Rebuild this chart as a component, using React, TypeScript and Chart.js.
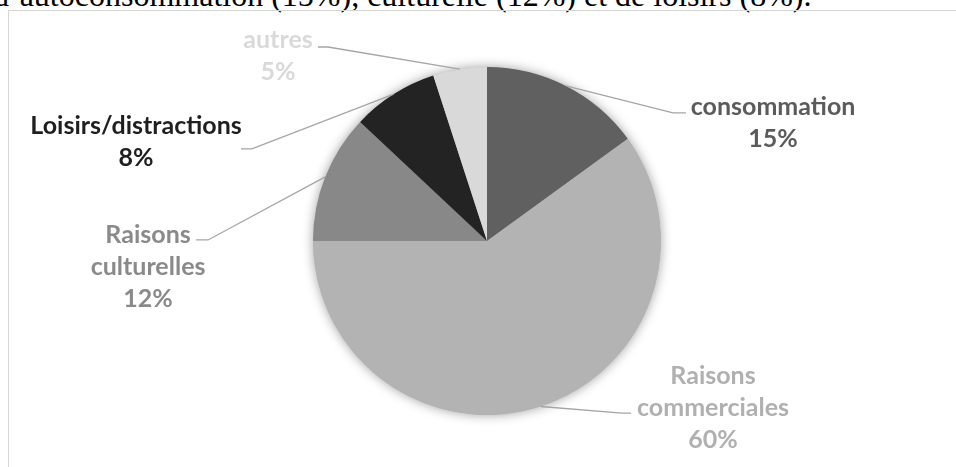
import React, { useEffect, useRef } from "react";
import { Chart, registerables } from "chart.js";

Chart.register(...registerables);

// ---- data ----
const CATEGORIES = [
  "consommation",
  "Raisons commerciales",
  "Raisons culturelles",
  "Loisirs/distractions",
  "autres",
];
const VALUES = [15, 60, 12, 8, 5];
const LABEL_LINES = [
  ["consommation"],
  ["Raisons", "commerciales"],
  ["Raisons", "culturelles"],
  ["Loisirs/distractions"],
  ["autres"],
];
const INTRO_TEXT = "d’autoconsommation (15%), culturelle (12%) et de loisirs (8%).";

// ---- styles ----
const SLICE_COLORS = ["#606060", "#b3b3b3", "#888888", "#232323", "#d9d9d9"];
const TEXT_COLORS = ["#5b5b5b", "#b0b0b0", "#8a8a8a", "#1f1f1f", "#d9d9d9"];
const LEADER_COLOR = "#a5a5a5";
const LABEL_FONT = "bold 25px Lato";
const LINE_GAP = 32;

// label placement, in units of the pie radius, relative to the pie centre
const LABEL_LAYOUT = [
  { elbow: [1.069, -0.736], end: [1.144, -0.736], text: [1.644, -0.724] },
  { elbow: [0.776, 0.989], end: [0.828, 0.989], text: [1.299, 0.822] },
  { elbow: [-1.603, -0.006], end: [-1.672, -0.006], text: [-1.948, 0.011] },
  { elbow: [-1.351, -0.529], end: [-1.414, -0.529], text: [-2.017, -0.615] },
  { elbow: [-0.914, -1.115], end: [-0.971, -1.115], text: [-1.201, -1.109] },
];

const shadowPlugin = {
  id: "pieShadow",
  beforeDatasetsDraw(chart: any) {
    const arc = chart.getDatasetMeta(0).data[0];
    if (!arc) return;
    const { x, y, outerRadius } = arc.getProps(["x", "y", "outerRadius"], true);
    const ctx = chart.ctx;
    ctx.save();
    ctx.shadowColor = "rgba(0,0,0,0.4)";
    ctx.shadowBlur = 12;
    ctx.fillStyle = "#999999";
    ctx.beginPath();
    ctx.arc(x, y, outerRadius - 0.5, 0, Math.PI * 2);
    ctx.fill();
    ctx.restore();
  },
};

const labelPlugin = {
  id: "pieLabels",
  afterDatasetsDraw(chart: any) {
    const meta = chart.getDatasetMeta(0);
    const ctx = chart.ctx;
    const values = chart.data.datasets[0].data as number[];
    meta.data.forEach((arc: any, i: number) => {
      const { x, y, startAngle, endAngle, outerRadius } = arc.getProps(
        ["x", "y", "startAngle", "endAngle", "outerRadius"],
        true
      );
      const r = outerRadius;
      const mid = (startAngle + endAngle) / 2;
      const sx = x + Math.cos(mid) * r;
      const sy = y + Math.sin(mid) * r;
      const lay = LABEL_LAYOUT[i];
      ctx.save();
      ctx.strokeStyle = LEADER_COLOR;
      ctx.lineWidth = 1.3;
      ctx.beginPath();
      ctx.moveTo(sx, sy);
      ctx.lineTo(x + lay.elbow[0] * r, y + lay.elbow[1] * r);
      ctx.lineTo(x + lay.end[0] * r, y + lay.end[1] * r);
      ctx.stroke();

      const lines = [...LABEL_LINES[i], `${values[i]}%`];
      ctx.font = LABEL_FONT;
      ctx.fillStyle = TEXT_COLORS[i];
      ctx.textAlign = "center";
      ctx.textBaseline = "alphabetic";
      const tx = x + lay.text[0] * r;
      const ty = y + lay.text[1] * r;
      lines.forEach((ln, k) => ctx.fillText(ln, tx, ty + k * LINE_GAP));
      ctx.restore();
    });
  },
};

export default function App() {
  const canvasRef = useRef<HTMLCanvasElement | null>(null);

  useEffect(() => {
    const canvas = canvasRef.current;
    if (!canvas) return;
    const chart = new Chart(canvas, {
      type: "pie",
      data: {
        labels: CATEGORIES,
        datasets: [
          {
            data: VALUES,
            backgroundColor: SLICE_COLORS,
            borderWidth: 0,
          },
        ],
      },
      options: {
        responsive: false,
        animation: false,
        layout: { padding: { top: 67, bottom: 52, left: 18, right: 0 } },
        plugins: {
          legend: { display: false },
          tooltip: { enabled: false },
        },
      },
      plugins: [shadowPlugin, labelPlugin],
    } as any);
    let alive = true;
    if ((document as any).fonts && (document as any).fonts.load) {
      (document as any).fonts.load(LABEL_FONT).then(() => {
        if (alive) chart.update();
      });
    }
    return () => {
      alive = false;
      chart.destroy();
    };
  }, []);

  return (
    <div
      style={{
        position: "fixed",
        left: 0,
        top: 0,
        width: 956,
        height: 467,
        overflow: "hidden",
        background: "#ffffff",
      }}
    >
      <div
        style={{
          position: "absolute",
          left: -7,
          top: -21,
          fontFamily: "'Liberation Serif', 'Times New Roman', serif",
          fontSize: 32,
          lineHeight: "32px",
          whiteSpace: "nowrap",
          color: "#000",
        }}
      >
        {INTRO_TEXT}
      </div>
      <div
        style={{
          position: "absolute",
          left: 8,
          top: 10,
          width: 1000,
          height: 500,
          border: "1px solid #d6d6d6",
          boxSizing: "border-box",
        }}
      />
      <canvas
        ref={canvasRef}
        width={956}
        height={467}
        style={{ position: "absolute", left: 0, top: 0, width: 956, height: 467 }}
      />
    </div>
  );
}
